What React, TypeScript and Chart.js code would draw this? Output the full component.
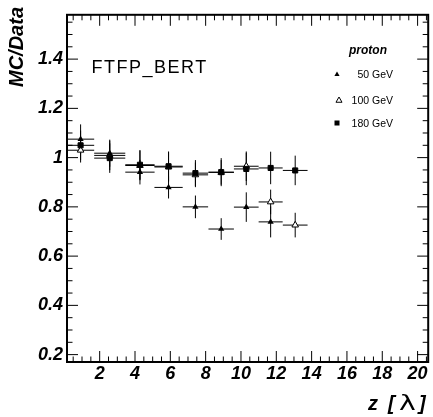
import React, { useEffect, useRef } from 'react';
import { Chart, registerables } from 'chart.js';

Chart.register(...registerables);

const FONT = '"Liberation Sans", Arial, Helvetica, sans-serif';

// bin centres (z in lambda) and half widths
const xCenters = [0.92, 2.57, 4.28, 5.9, 7.42, 8.88, 10.3, 11.68, 13.07];
const xHalfWidths = [0.77, 0.88, 0.83, 0.8, 0.72, 0.72, 0.7, 0.68, 0.7];

// MC/Data ratios
const ratio50 = [1.075, 1.018, 0.941, 0.879, 0.8, 0.71, 0.799, 0.739];
const err50 = [0.06, 0.055, 0.05, 0.045, 0.046, 0.044, 0.06, 0.063];
const ratio100 = [1.03, 1.009, 0.968, 0.962, 0.93, 0.94, 0.965, 0.82, 0.726];
const err100 = [0.05, 0.06, 0.06, 0.06, 0.05, 0.05, 0.06, 0.05, 0.05];
const ratio180 = [1.05, 0.998, 0.971, 0.965, 0.937, 0.941, 0.954, 0.958, 0.948];
const err180 = [0.06, 0.06, 0.06, 0.06, 0.053, 0.057, 0.066, 0.066, 0.06];

const xTickValues = [2, 4, 6, 8, 10, 12, 14, 16, 18, 20];
const yTickValues = [0.2, 0.4, 0.6, 0.8, 1.0, 1.2, 1.4];
const seriesLabels = ['50 GeV', '100 GeV', '180 GeV'];
const legendTitle = 'proton';
const modelLabel = 'FTFP_BERT';
const yTitle = 'MC/Data';

const X_MIN = 0.15, X_MAX = 20.6, Y_MIN = 0.17, Y_MAX = 1.58;

const toPoints = (ys: number[]) => ys.map((y, i) => ({ x: xCenters[i], y }));

function drawTri(ctx: CanvasRenderingContext2D, x: number, y: number, r: number, filled: boolean) {
  ctx.beginPath();
  for (let k = 0; k < 3; k++) {
    const a = (k * 2 * Math.PI) / 3;
    const px = x + Math.sin(a) * r;
    const py = y - Math.cos(a) * r;
    if (k === 0) ctx.moveTo(px, py); else ctx.lineTo(px, py);
  }
  ctx.closePath();
  if (filled) { ctx.fillStyle = '#000'; ctx.fill(); }
  else { ctx.fillStyle = '#fff'; ctx.fill(); ctx.strokeStyle = '#000'; ctx.lineWidth = 1; ctx.stroke(); }
  ctx.fillStyle = '#000';
}

const errorBarPlugin = {
  id: 'errorBars',
  beforeDatasetsDraw(chart: any) {
    const { ctx, scales } = chart;
    const xs = scales.x, ys = scales.y;
    ctx.save();
    ctx.strokeStyle = '#000';
    ctx.lineWidth = 1;
    chart.data.datasets.forEach((ds: any) => {
      ds.data.forEach((p: any, i: number) => {
        const px = xs.getPixelForValue(p.x);
        const py = ys.getPixelForValue(p.y);
        const x1 = xs.getPixelForValue(p.x - xHalfWidths[i]);
        const x2 = xs.getPixelForValue(p.x + xHalfWidths[i]);
        const y1 = ys.getPixelForValue(p.y + ds.errY[i]);
        const y2 = ys.getPixelForValue(p.y - ds.errY[i]);
        ctx.beginPath();
        ctx.moveTo(x1, py); ctx.lineTo(x2, py);
        ctx.moveTo(px, y1); ctx.lineTo(px, y2);
        ctx.stroke();
      });
    });
    ctx.restore();
  },
};

const framePlugin = {
  id: 'frame',
  afterDraw(chart: any) {
    const { ctx, chartArea, scales } = chart;
    const { left, right, top, bottom } = chartArea;
    const xs = scales.x, ys = scales.y;
    const MAJ = 11, MIN = 5.5;
    ctx.save();
    ctx.strokeStyle = '#000';
    ctx.lineWidth = 1;
    ctx.beginPath();
    for (let k = 1; k <= 41; k++) {
      const v = k * 0.5;
      if (v < X_MIN || v > X_MAX) continue;
      const px = xs.getPixelForValue(v);
      const len = k % 4 === 0 ? MAJ : MIN;
      ctx.moveTo(px, bottom); ctx.lineTo(px, bottom - len);
      ctx.moveTo(px, top); ctx.lineTo(px, top + len);
    }
    for (let k = 4; k <= 31; k++) {
      const v = k * 0.05;
      if (v < Y_MIN || v > Y_MAX) continue;
      const py = ys.getPixelForValue(v);
      const len = k % 4 === 0 ? MAJ : MIN;
      ctx.moveTo(left, py); ctx.lineTo(left + len, py);
      ctx.moveTo(right, py); ctx.lineTo(right - len, py);
    }
    ctx.stroke();
    ctx.lineWidth = 2;
    ctx.strokeRect(left, top, right - left, bottom - top);

    // texts
    ctx.fillStyle = '#000';
    ctx.textBaseline = 'alphabetic';
    ctx.textAlign = 'left';
    ctx.font = `18px ${FONT}`;
    (ctx as any).letterSpacing = '1.5px';
    ctx.fillText(modelLabel, 91.5, 72.5);
    (ctx as any).letterSpacing = '0px';

    ctx.font = `italic bold 12px ${FONT}`;
    ctx.textAlign = 'center';
    ctx.fillText(legendTitle, 368, 54);

    ctx.font = `10.5px ${FONT}`;
    ctx.textAlign = 'right';
    const baselines = [77.7, 104, 126.7];
    seriesLabels.forEach((s, i) => ctx.fillText(s, 393, baselines[i]));
    drawTri(ctx, 337, 74.5, 3, true);
    drawTri(ctx, 339, 100.5, 3.5, false);
    ctx.fillStyle = '#000';
    ctx.fillRect(334.5, 120.5, 5, 5);

    // y title
    ctx.save();
    ctx.fillStyle = '#000';
    ctx.translate(23, 7);
    ctx.rotate(-Math.PI / 2);
    ctx.textAlign = 'right';
    ctx.font = `italic bold 20px ${FONT}`;
    ctx.fillText(yTitle, 0, 0);
    ctx.restore();

    // x title: z [λ]
    ctx.fillStyle = '#000';
    ctx.textAlign = 'left';
    ctx.font = `italic bold 20px ${FONT}`;
    ctx.fillText('z', 368, 410);
    ctx.fillText('[', 388, 410);
    ctx.fillText(']', 419, 410);
    ctx.save();
    ctx.translate(399, 410);
    ctx.scale(1.35, 1);
    ctx.font = `21px "DejaVu Sans", sans-serif`;
    ctx.fillText('\u03bb', 0, 0);
    ctx.restore();
    ctx.restore();
  },
};

export default function App() {
  const ref = useRef<HTMLCanvasElement | null>(null);
  useEffect(() => {
    if (!ref.current) return;
    const tickFont = { family: FONT, size: 18, style: 'italic' as const, weight: 'bold' as const };
    const chart = new Chart(ref.current, {
      type: 'scatter',
      data: {
        datasets: [
          {
            label: seriesLabels[0],
            data: toPoints(ratio50),
            errY: err50,
            pointStyle: 'triangle',
            radius: 3.6,
            backgroundColor: '#000',
            borderColor: '#000',
            borderWidth: 0,
            order: 0,
          } as any,
          {
            label: seriesLabels[1],
            data: toPoints(ratio100),
            errY: err100,
            pointStyle: 'triangle',
            radius: 3.8,
            backgroundColor: '#fff',
            borderColor: '#000',
            borderWidth: 1,
            order: 2,
          } as any,
          {
            label: seriesLabels[2],
            data: toPoints(ratio180),
            errY: err180,
            pointStyle: 'rect',
            radius: 3.6,
            backgroundColor: '#000',
            borderColor: '#000',
            borderWidth: 1,
            order: 1,
          } as any,
        ],
      },
      options: {
        animation: false,
        responsive: true,
        maintainAspectRatio: false,
        layout: { padding: { top: 7, right: 3, left: 0, bottom: 0 } },
        plugins: { legend: { display: false }, tooltip: { enabled: false } },
        elements: { point: { hoverRadius: 3 } },
        scales: {
          x: {
            type: 'linear',
            min: X_MIN,
            max: X_MAX,
            grid: { display: false, drawTicks: false },
            border: { display: false },
            afterBuildTicks: (s: any) => { s.ticks = xTickValues.map((v) => ({ value: v })); },
            afterFit: (s: any) => { s.height = 55; },
            ticks: { font: tickFont, color: '#000', padding: 1, maxRotation: 0, autoSkip: false, callback: (v: any) => String(v) },
          },
          y: {
            type: 'linear',
            min: Y_MIN,
            max: Y_MAX,
            grid: { display: false, drawTicks: false },
            border: { display: false },
            afterBuildTicks: (s: any) => { s.ticks = yTickValues.map((v) => ({ value: v })); },
            afterFit: (s: any) => { s.width = 67; },
            ticks: { font: tickFont, color: '#000', padding: 4, autoSkip: false, callback: (v: any) => String(Math.round(Number(v) * 10) / 10) },
          },
        },
      },
      plugins: [errorBarPlugin, framePlugin],
    } as any);
    return () => chart.destroy();
  }, []);
  return (
    <div style={{ position: 'fixed', left: 0, top: 0, width: 433, height: 417, background: '#fff' }}>
      <canvas ref={ref} />
    </div>
  );
}
